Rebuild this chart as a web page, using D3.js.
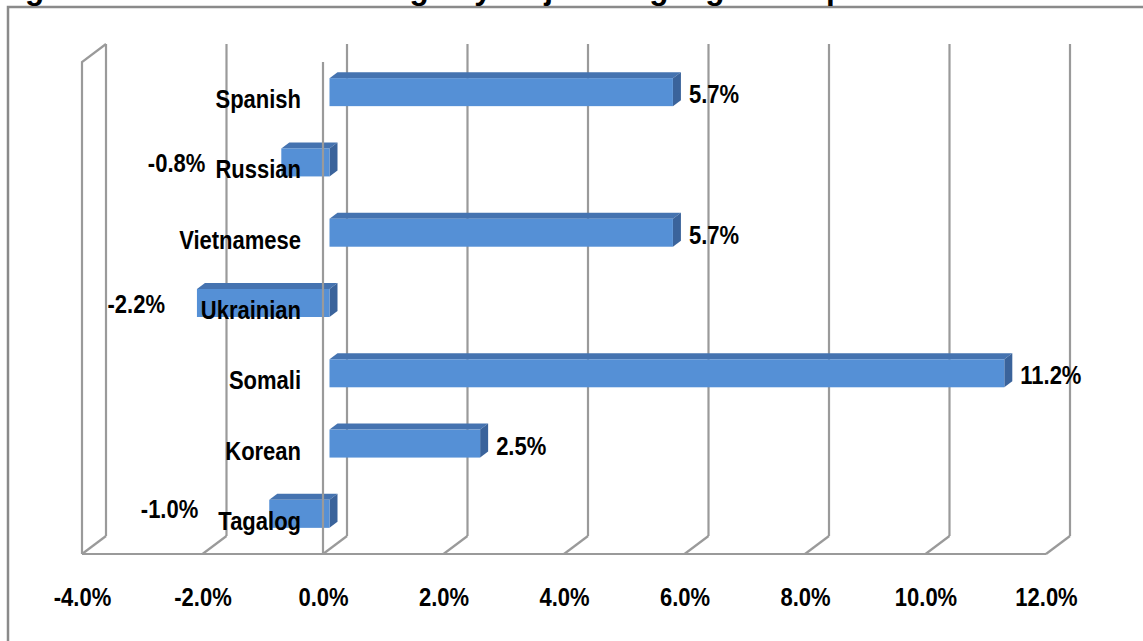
<!DOCTYPE html>
<html>
<head>
<meta charset="utf-8">
<script src="https://cdnjs.cloudflare.com/ajax/libs/d3/7.8.5/d3.min.js"></script>
<style>
  html, body { margin: 0; padding: 0; background: #fff; }
  svg { display: block; }
  text { font-family: "Liberation Sans", Arial, sans-serif; font-weight: bold; fill: #000; }
</style>
</head>
<body>
<svg id="chart" width="1143" height="641"></svg>
<script>
// ---------------- data ----------------
const categories = ["Spanish", "Russian", "Vietnamese", "Ukrainian", "Somali", "Korean", "Tagalog"];
const values = [5.7, -0.8, 5.7, -2.2, 11.2, 2.5, -1.0];
const tickValues = [-4, -2, 0, 2, 4, 6, 8, 10, 12];
const tickLabels = ["-4.0%", "-2.0%", "0.0%", "2.0%", "4.0%", "6.0%", "8.0%", "10.0%", "12.0%"];
const titleText = "Figure 3: ELL Percent Change by Major Language Group";

// ---------------- layout ----------------
const W = 1143, H = 641;
const gridColor = "#9a9a9a";
const frontColor = "#5590D6", topColor = "#4573B0", sideColor = "#3A639B";
const depth = { dx: 24, dy: -18 };       // wall depth
const barOff = { dx: 6.5, dy: -5 };      // bar front face offset into depth
const barDepth = { dx: 8, dy: -6 };      // bar depth
const barH = 28;
const textScale = 0.88;
// manually placed negative value labels (offset from bar's left end / bar centre)
const negLabelNudge = { "Russian": [-76, 10], "Ukrainian": [-32, 10], "Tagalog": [-71, 4] };

const svg = d3.select("#chart");

const x = d3.scaleLinear().domain([-4, 12]).range([82, 1046]);
const y = d3.scaleBand().domain(categories).range([62, 554]);
const yTop = 62, yBot = 554;

// outer frame
svg.append("path")
  .attr("d", `M8,${H} L8,7 L${W},7`)
  .attr("fill", "none").attr("stroke", "#8a8a8a").attr("stroke-width", 2.5);

// title (cropped at the top of the picture)
svg.append("text")
  .attr("x", -3).attr("y", -1)
  .style("font-size", "31.5px")
  .text(titleText);

const g = svg.append("g");

// back gridlines
g.selectAll("line.back").data(tickValues).join("line")
  .attr("x1", d => x(d) + depth.dx).attr("x2", d => x(d) + depth.dx)
  .attr("y1", yTop + depth.dy).attr("y2", yBot + depth.dy)
  .attr("stroke", gridColor).attr("stroke-width", 2.2);

// floor diagonals
g.selectAll("line.floor").data(tickValues).join("line")
  .attr("x1", d => x(d)).attr("y1", yBot)
  .attr("x2", d => x(d) + depth.dx).attr("y2", yBot + depth.dy)
  .attr("stroke", gridColor).attr("stroke-width", 2.2);

// left wall: front edge + top diagonal
const x0 = x.domain()[0];
g.append("path")
  .attr("d", `M${x(x0)},${yBot} L${x(x0)},${yTop} L${x(x0) + depth.dx},${yTop + depth.dy}`)
  .attr("fill", "none").attr("stroke", gridColor).attr("stroke-width", 2.2);

// bars
const data = categories.map((c, i) => ({ c, v: values[i] }));
const bars = g.selectAll("g.bar").data(data).join("g").attr("class", "bar");
function geom(d) {
  const xa = x(Math.min(0, d.v)) + barOff.dx;
  const xb = x(Math.max(0, d.v)) + barOff.dx;
  const yc = y(d.c) + y.bandwidth() / 2 + barOff.dy;
  return { xa, xb, yc, yt: yc - barH / 2, yb: yc + barH / 2 };
}
bars.append("path")
  .attr("d", d => { const q = geom(d);
    return `M${q.xa},${q.yt} L${q.xb},${q.yt} L${q.xb + barDepth.dx},${q.yt + barDepth.dy} L${q.xa + barDepth.dx},${q.yt + barDepth.dy}Z`; })
  .attr("fill", topColor);
bars.append("path")
  .attr("d", d => { const q = geom(d);
    return `M${q.xb},${q.yt} L${q.xb + barDepth.dx},${q.yt + barDepth.dy} L${q.xb + barDepth.dx},${q.yb + barDepth.dy} L${q.xb},${q.yb}Z`; })
  .attr("fill", sideColor);
bars.append("rect")
  .attr("x", d => geom(d).xa).attr("y", d => geom(d).yt)
  .attr("width", d => geom(d).xb - geom(d).xa).attr("height", barH)
  .attr("fill", frontColor);

// zero plane front edge and floor front edge (in front of bars)
g.append("line")
  .attr("x1", x(0)).attr("x2", x(0)).attr("y1", yTop).attr("y2", yBot)
  .attr("stroke", gridColor).attr("stroke-width", 2.2);
g.append("line")
  .attr("x1", x(x.domain()[0])).attr("x2", x(x.domain()[1])).attr("y1", yBot).attr("y2", yBot)
  .attr("stroke", gridColor).attr("stroke-width", 2.2);

// x axis (tick labels)
const xAxis = d3.axisBottom(x).tickValues(tickValues)
  .tickFormat((d, i) => tickLabels[i]).tickSize(0).tickPadding(0);
const gx = svg.append("g").attr("transform", `translate(0,${yBot + 52})`).call(xAxis);
gx.select(".domain").remove();
gx.selectAll("text")
  .attr("y", 0).attr("dy", 0)
  .attr("transform", `scale(${textScale},1)`)
  .style("font-size", "25px").style("font-family", "'Liberation Sans', Arial, sans-serif")
  .style("font-weight", "bold").attr("fill", "#000");

// category labels
const yAxis = d3.axisLeft(y).tickSize(0).tickPadding(0);
const gy = svg.append("g").attr("transform", `translate(301,3)`).call(yAxis);
gy.select(".domain").remove();
gy.selectAll("text")
  .attr("x", 0).attr("dy", "0.32em")
  .attr("transform", `scale(${textScale},1)`)
  .style("font-size", "25px").style("font-family", "'Liberation Sans', Arial, sans-serif")
  .style("font-weight", "bold").attr("fill", "#000");

// value labels
svg.selectAll("text.val").data(data).join("text")
  .attr("class", "val")
  .style("font-size", "25px")
  .attr("text-anchor", d => d.v >= 0 ? "start" : "end")
  .attr("transform", d => {
    const q = geom(d);
    let tx, ty;
    if (d.v >= 0) { tx = q.xb + barDepth.dx + 8; ty = q.yc + 11; }
    else { const n = negLabelNudge[d.c] || [-40, 10]; tx = q.xa + n[0]; ty = q.yc + n[1]; }
    return `translate(${tx},${ty}) scale(${textScale},1)`;
  })
  .text(d => d.v.toFixed(1) + "%");
</script>
</body>
</html>
